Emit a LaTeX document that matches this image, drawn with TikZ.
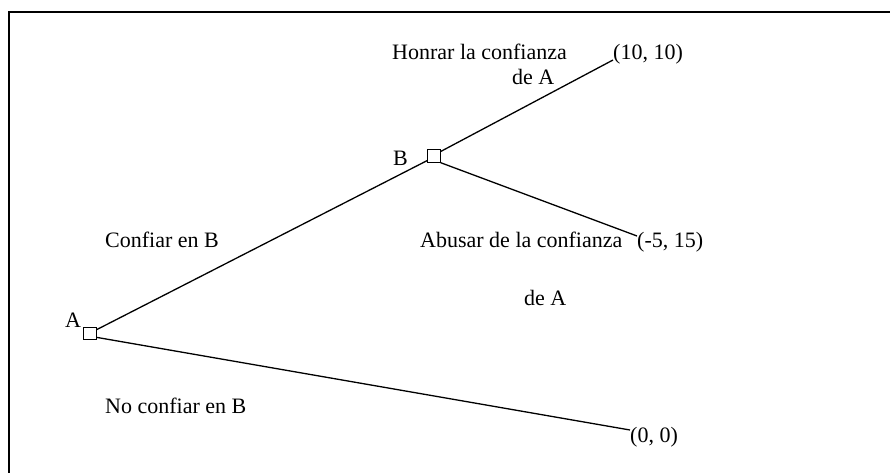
\documentclass[tikz,border=0pt]{standalone}
\usepackage{fontspec}
\setmainfont{Liberation Serif}
\begin{document}
\begin{tikzpicture}[x=1pt,y=-1pt,
  lab/.style={font=\fontsize{22}{26}\selectfont, inner sep=0pt, anchor=base west},
  dnode/.style={draw, line width=0.9pt, minimum size=12.5pt, inner sep=0pt},
  edgeline/.style={line width=1.3pt},
  frameline/.style={line width=1.6pt}]
\useasboundingbox (0,0) rectangle (890,473);
\draw[frameline] (9,473) -- (9,12) -- (890,12);
% decision nodes
\node[dnode] (A) at (90,333.5) {};
\node[dnode] (B) at (434,156) {};
\node[lab] (la) at (65,327) {A};
\node[lab] (lb) at (393,165) {B};
% labels
\node[lab] (t1) at (392,60) {Honrar la confianza};
\node[lab] (t1b) at (512,85) {de A};
\node[lab] (p1) at (613,60) {(10, 10)};
\node[lab] (t2) at (420,247) {Abusar de la confianza};
\node[lab] (t2b) at (524,305) {de A};
\node[lab] (p2) at (637,247) {(-5, 15)};
\node[lab] (t3) at (105,247) {Confiar en B};
\node[lab] (t4) at (105,413) {No confiar en B};
\node[lab] (p3) at (630,442) {(0, 0)};
% connectors
\draw[edgeline] (A.30) -- (B.214);
\draw[edgeline] (B.34) -- (p1.base west);
\draw[edgeline] (B.-45) -- ([yshift=11pt]p2.base west);
\draw[edgeline] (A.-30) -- ([yshift=12pt]p3.base west);
\end{tikzpicture}
\end{document}
